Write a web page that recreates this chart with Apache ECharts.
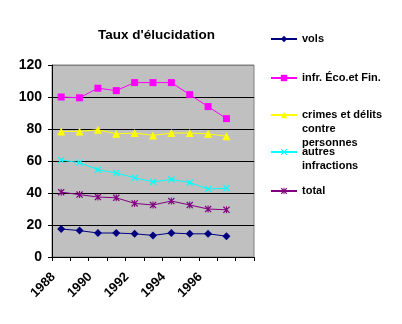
<!DOCTYPE html>
<html>
<head>
<meta charset="utf-8">
<script src="https://cdn.jsdelivr.net/npm/echarts@6/dist/echarts.min.js"></script>
<style>
html, body { margin: 0; padding: 0; background: #fff; }
#chart { width: 402px; height: 324px; }
</style>
</head>
<body>
<div id="chart"></div>
<script>
// Years on the category axis (last slot left blank, as on the axis)
var years = ['1988', '1989', '1990', '1991', '1992', '1993', '1994', '1995', '1996', '1997', ''];

// Clearance rates per offence group
var vols = [17.5, 16.5, 15, 15, 14.5, 13.5, 15, 14.5, 14.5, 13, null];
var infrEco = [100, 99.5, 105.5, 104, 109, 109, 109, 101.5, 94, 86.5, null];
var crimesPersonnes = [78.5, 78.5, 79.5, 77, 77.5, 76, 77.5, 77.5, 77, 75.5, null];
var autres = [60.5, 59, 54.5, 52.5, 49.5, 47, 48.5, 46.5, 42.5, 43, null];
var total = [40.5, 39, 37.5, 37, 33.5, 32.5, 35, 32.5, 30, 29.5, null];

var yTicks = { min: 0, max: 120, step: 20 };

var FONT = '"Liberation Sans", Arial, sans-serif';

var crossPath = 'path://M0,1 L1,0 L4,3 L7,0 L8,1 L5,4 L8,7 L7,8 L4,5 L1,8 L0,7 L3,4 Z';
var starPath = 'path://M0,1 L1,0 L4,3 L7,0 L8,1 L5,4 L8,7 L7,8 L4,5 L1,8 L0,7 L3,4 Z M3.4,0 L4.6,0 L4.6,8 L3.4,8 Z';

var names = ['vols', 'infr. Éco.et Fin.', 'crimes et délits\ncontre\npersonnes', 'autres\ninfractions', 'total'];

function lineSeries(name, data, color, symbol, size) {
  return {
    name: name,
    type: 'line',
    data: data,
    symbol: symbol,
    symbolSize: size,
    showSymbol: true,
    lineStyle: { color: color, width: 1 },
    itemStyle: { color: color },
    animation: false
  };
}

// One legend block per series; the wrapped entries keep their first line level with the key
function legendAt(name, top, blankLines) {
  return {
    data: [name],
    left: 270,
    top: top,
    padding: 0,
    itemWidth: 26,
    itemHeight: 8,
    itemGap: 0,
    formatter: function (n) {
      return new Array(blankLines + 1).join('\n') + n;
    },
    textStyle: {
      fontFamily: FONT,
      fontWeight: 'bold',
      fontSize: 11,
      color: '#000',
      lineHeight: 14
    }
  };
}

var chart = echarts.init(document.getElementById('chart'));
chart.setOption({
  backgroundColor: '#fff',
  animation: false,
  title: {
    text: "Taux d'élucidation",
    left: 98,
    top: 28,
    padding: 0,
    textStyle: { fontFamily: FONT, fontWeight: 'bold', fontSize: 13.5, color: '#000' }
  },
  legend: [
    legendAt(names[0], 32, 0),
    legendAt(names[1], 71, 0),
    legendAt(names[2], 80, 2),
    legendAt(names[3], 131, 1),
    legendAt(names[4], 184, 0)
  ],
  grid: {
    left: 52, right: 148, top: 65, bottom: 67,
    show: true,
    backgroundColor: '#C0C0C0',
    borderColor: '#808080',
    borderWidth: 1
  },
  xAxis: {
    type: 'category',
    data: years,
    boundaryGap: true,
    axisLine: { lineStyle: { color: '#000', width: 1 } },
    axisTick: { show: true, interval: 0, length: 4, lineStyle: { color: '#000' } },
    axisLabel: {
      interval: 1,
      rotate: 45,
      margin: 10,
      padding: [0, 11, 0, 0],
      fontFamily: FONT,
      fontWeight: 'bold',
      fontSize: 13,
      color: '#000'
    },
    splitLine: { show: false }
  },
  yAxis: {
    type: 'value',
    min: yTicks.min,
    max: yTicks.max,
    interval: yTicks.step,
    axisLine: { show: true, lineStyle: { color: '#000', width: 1 } },
    axisTick: { show: true, length: 4, lineStyle: { color: '#000' } },
    axisLabel: {
      margin: 10,
      fontFamily: FONT,
      fontWeight: 'bold',
      fontSize: 14,
      color: '#000'
    },
    splitLine: { show: true, lineStyle: { color: ['#000', '#000', '#000', '#000', '#000', '#000', '#808080'], width: 1 } }
  },
  series: [
    lineSeries(names[0], vols, '#000080', 'diamond', 8),
    lineSeries(names[1], infrEco, '#FF00FF', 'rect', 7),
    lineSeries(names[2], crimesPersonnes, '#FFFF00', 'triangle', 8),
    lineSeries(names[3], autres, '#00FFFF', crossPath, 7),
    lineSeries(names[4], total, '#800080', starPath, 7)
  ]
});
</script>
</body>
</html>
